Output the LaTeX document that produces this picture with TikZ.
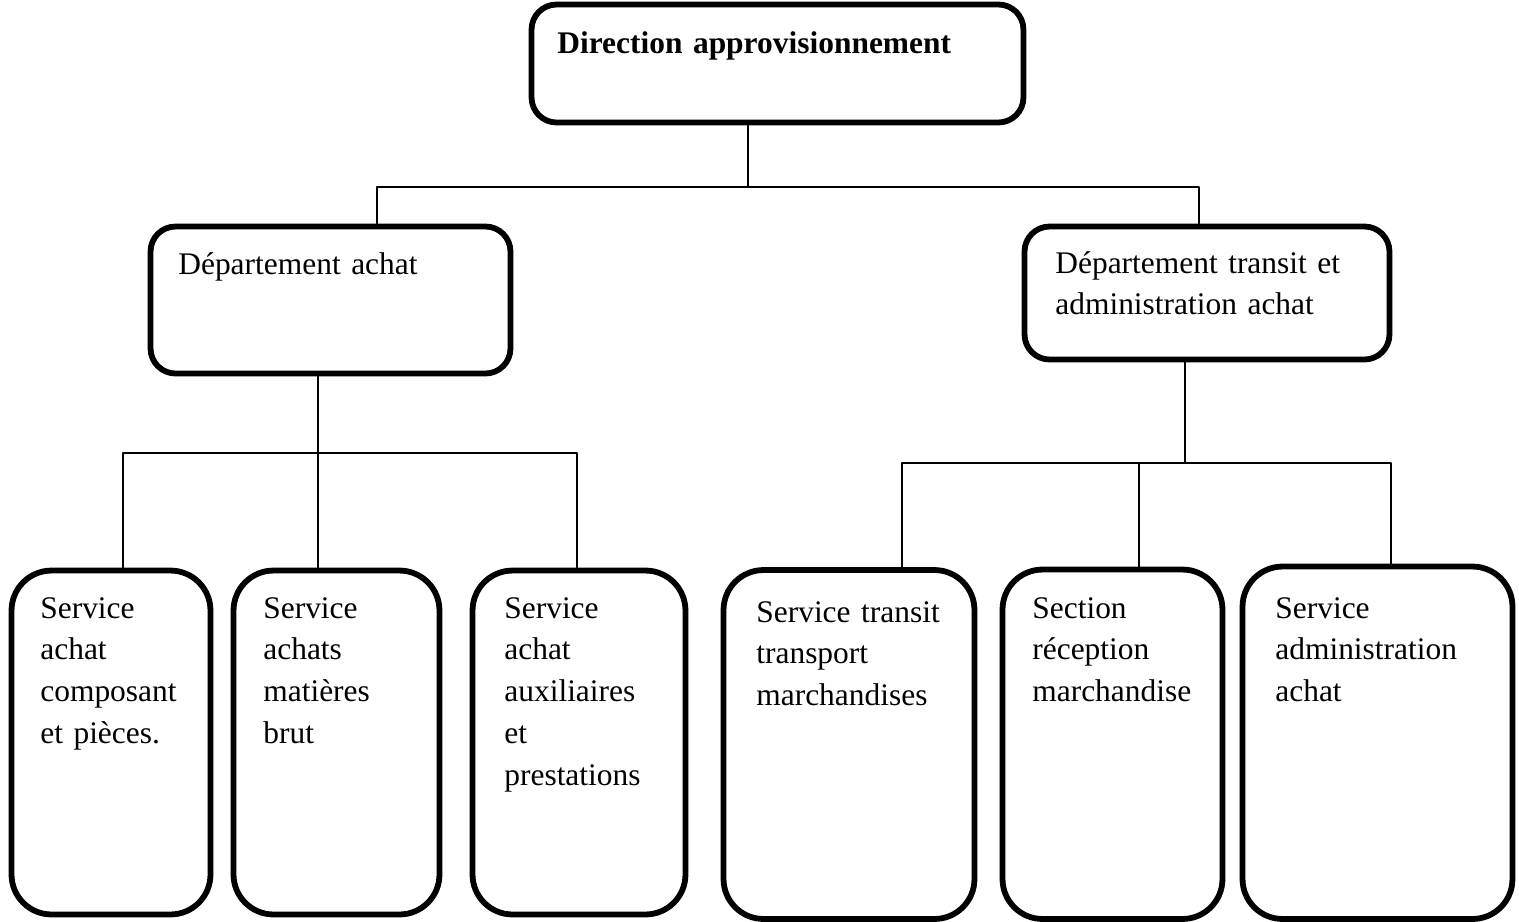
\documentclass[tikz,border=0pt]{standalone}
\usepackage{fontspec}
\setmainfont{Liberation Serif}
\tikzset{
  unit/.style={draw, line width=3.3pt, rounded corners=0.5cm, inner sep=0pt},
  service/.style={unit, rounded corners=0.8cm},
  lbl/.style={anchor=base west, inner sep=0pt, align=left, text width=#1,
    font=\fontsize{17.9pt}{23.8pt}\selectfont},
  lbl/.default=4cm,
  link/.style={line width=0.8pt}
}
\begin{document}
\begin{tikzpicture}[x=0.02cm, y=-0.02cm, line join=round]
    \useasboundingbox (0,0) rectangle (1519,921);
    \def\bh{6.88cm}
    % boxes
    \node[unit, minimum width=9.84cm, minimum height=2.36cm] (dir) at (777.5,63.5) {};
    \node[unit, minimum width=7.2cm, minimum height=2.94cm] (achat) at (330.5,300) {};
    \node[unit, minimum width=7.3cm, minimum height=2.66cm] (transit) at (1207,293) {};
    \node[service, minimum width=3.98cm, minimum height=\bh] (s1) at (111,742.5) {};
    \node[service, minimum width=4.12cm, minimum height=\bh] (s2) at (336.5,742.5) {};
    \node[service, minimum width=4.26cm, minimum height=\bh] (s3) at (579,742.5) {};
    \node[service, minimum width=5.02cm, minimum height=6.98cm] (s4) at (849,744.5) {};
    \node[service, minimum width=4.4cm, minimum height=6.99cm] (s5) at (1112.5,744.25) {};
    \node[service, minimum width=5.4cm, minimum height=7.05cm] (s6) at (1377.5,742.75) {};
    % texts
    \node[lbl=9cm, font=\fontsize{17.9pt}{23.8pt}\selectfont\bfseries] (tdir) at (557,53) {Direction approvisionnement};
    \node[lbl=6.5cm] (tachat) at (178,274) {Département achat};
    \node[lbl=6.5cm] (ttransit) at (1055,273) {Département transit et\\administration achat};
    \node[lbl=3.6cm] (t1) at (40,618) {Service\\achat\\composant\\et pièces.};
    \node[lbl=3.6cm] (t2) at (263,618) {Service\\achats\\matières\\brut};
    \node[lbl=3.6cm] (t3) at (504,618) {Service\\achat\\auxiliaires\\et\\prestations};
    \node[lbl=4.4cm] (t4) at (756,622) {Service transit\\transport\\marchandises};
    \node[lbl=4cm] (t5) at (1032,618) {Section\\réception\\marchandise};
    \node[lbl=4.6cm] (t6) at (1275,618) {Service\\administration\\achat};
    % connectors
    \coordinate (busT) at (0,187);
    \coordinate (busL) at (0,453);
    \coordinate (busR) at (0,463);
    \draw[link] ([xshift=-0.59cm]dir.south) -- ([xshift=-0.59cm]dir.south |- busT);
    \draw[link] ([xshift=0.93cm]achat.north) |- ([xshift=-0.16cm]transit.north |- busT) -- ([xshift=-0.16cm]transit.north);
    \draw[link] ([xshift=-0.25cm]achat.south) -- ([xshift=-0.25cm]achat.south |- s2.north);
    \draw[link] ([xshift=0.24cm]s1.north) |- ([xshift=-0.04cm]s3.north |- busL) -- ([xshift=-0.04cm]s3.north);
    \draw[link] ([xshift=-0.44cm]transit.south) -- ([xshift=-0.44cm]transit.south |- busR);
    \draw[link] ([xshift=1.06cm]s4.north) |- ([xshift=0.27cm]s6.north |- busR) -- ([xshift=0.27cm]s6.north);
    \draw[link] ([xshift=0.53cm]s5.north) -- ([xshift=0.53cm]s5.north |- busR);
\end{tikzpicture}
\end{document}
